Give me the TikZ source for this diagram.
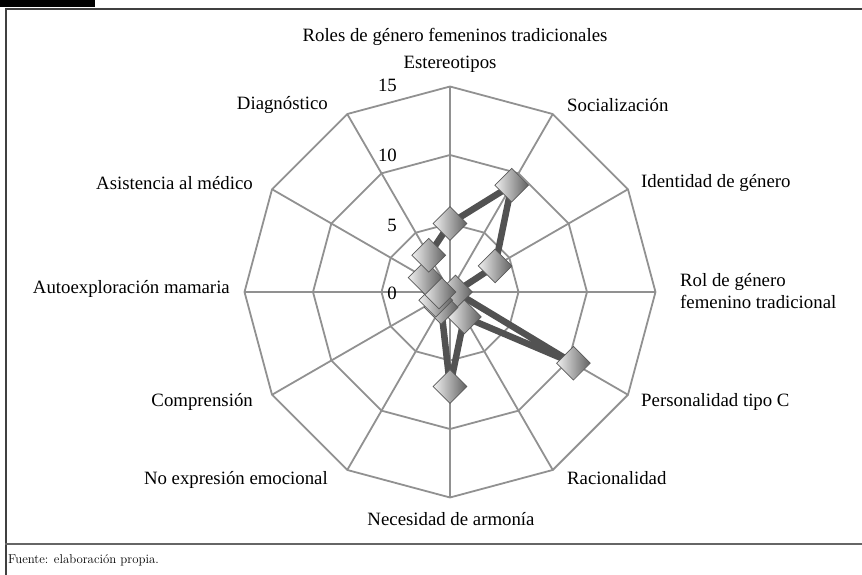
\documentclass[tikz,border=0pt]{standalone}
\usepackage{fontspec}
\newfontfamily\chartfont{Liberation Serif}
\usepackage{tikz}
\usetikzlibrary{shapes.geometric,positioning}

\begin{document}
\begin{tikzpicture}[x=1pt,y=-1pt,
  grid/.style={draw=black!43,line width=1.8pt},
  dataline/.style={draw=black!68,line width=6.5pt,line join=round},
  marker/.style={diamond,draw=black!65,line width=0.7pt,minimum size=34pt,inner sep=0pt,
    left color=black!6,right color=black!62},
  lbl/.style={font=\chartfont\fontsize{18.8}{22}\selectfont,inner sep=0pt},
  tick/.style={lbl,anchor=east}]
  \useasboundingbox (0,0) rectangle (862,575);

  % frame
  \fill (0,0) rectangle (95,7);
  \draw[black!75,line width=2.5pt] (5,9) -- (862,9);
  \draw[black!75,line width=2pt] (5.5,8) -- (5.5,575);
  \draw[black!60,line width=2pt] (5,544) -- (862,544);
  \node[anchor=west,inner sep=0pt,font=\fontsize{12.8}{15}\selectfont] (fuente) at (8,560) {Fuente: elaboración propia.};

  \node[lbl] (titulo) at (455,37) {Roles de género femeninos tradicionales};

  \begin{scope}[shift={(450,292)}]
    \foreach \r in {68.5,137,205.5}
      \draw[grid] (-90:\r) \foreach \a in {-60,-30,...,240} { -- (\a:\r) } -- cycle;
    \foreach \a in {-90,-60,...,240}
      \draw[grid] (0,0) -- (\a:205.5);

    \foreach \v [count=\i from 0] in {5,9,3.8,0.4,10.4,2.1,6.9,1.3,1.2,0.8,2.1,3.1}
      \coordinate (p\i) at ({-90+30*\i}:{13.7*\v});
    \draw[dataline] (p0) \foreach \i in {1,...,11} { -- (p\i) } -- cycle;
    \foreach \i in {0,...,11}
      \node[marker] (m\i) at (p\i) {};
  \end{scope}

  % scale
  \node[tick] (t15) at (397,85) {15};
  \node[tick] (t10) at (397,155) {10};
  \node[tick] (t5) at (397,225) {5};
  \node[tick] (t0) at (397,293) {0};

  % categories
  \node[lbl] (estereotipos) at (450,64) {Estereotipos};
  \node[lbl,anchor=west] (socializacion) at (567,105) {Socialización};
  \node[lbl,anchor=west] (identidad) at (641,183) {Identidad de género};
  \node[lbl,anchor=west,align=left] (rol) at (680,291) {Rol de género\\femenino tradicional};
  \node[lbl,anchor=west] (personalidad) at (641,402) {Personalidad tipo C};
  \node[lbl,anchor=west] (racionalidad) at (567,478) {Racionalidad};
  \node[lbl] (armonia) at (451,519) {Necesidad de armonía};
  \node[lbl,anchor=east] (noexpresion) at (328,480) {No expresión emocional};
  \node[lbl,anchor=east] (comprension) at (253,402) {Comprensión};
  \node[lbl,anchor=east] (autoexploracion) at (230,289) {Autoexploración mamaria};
  \node[lbl,anchor=east] (asistencia) at (253,183) {Asistencia al médico};
  \node[lbl,anchor=east] (diagnostico) at (328,105) {Diagnóstico};
\end{tikzpicture}
\end{document}
